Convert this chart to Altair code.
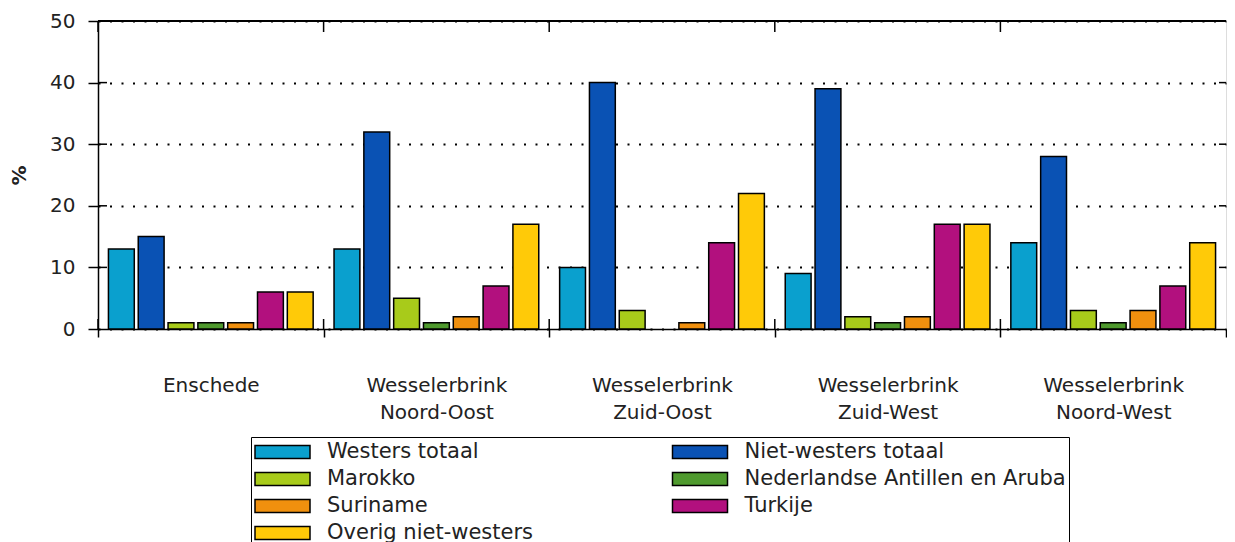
import altair as alt
import pandas as pd

GEBIEDEN = ["Enschede", "Wesselerbrink Noord-Oost", "Wesselerbrink Zuid-Oost",
            "Wesselerbrink Zuid-West", "Wesselerbrink Noord-West"]
SERIES = ["Westers totaal", "Niet-westers totaal", "Marokko",
          "Nederlandse Antillen en Aruba", "Suriname", "Turkije", "Overig niet-westers"]
COLORS = ["#0AA0CE", "#0A52B4", "#A8CB1A", "#4F9A2E", "#F0900E", "#B2107E", "#FFCA08"]

WESTERS = [13, 13, 10, 9, 14]
NIET_WESTERS = [15, 32, 40, 39, 28]
MAROKKO = [1, 5, 3, 2, 3]
ANTILLEN = [1, 1, 0, 1, 1]
SURINAME = [1, 2, 1, 2, 3]
TURKIJE = [6, 7, 14, 17, 7]
OVERIG = [6, 17, 22, 17, 14]

Y_TICKS = [0, 10, 20, 30, 40, 50]

series_values = [WESTERS, NIET_WESTERS, MAROKKO, ANTILLEN, SURINAME, TURKIJE, OVERIG]
rows = []
for s, vals in zip(SERIES, series_values):
    for g, v in zip(GEBIEDEN, vals):
        rows.append({"gebied": g, "serie": s, "pct": v})
df = pd.DataFrame(rows)

FONT = "DejaVu Sans"
W, H = 1128, 308

yscale = alt.Scale(domain=[0, 50], nice=False)
xscale = alt.Scale(domain=GEBIEDEN, paddingInner=0, paddingOuter=0)

LEGEND_SYMBOL = "M-1,-0.59H4V0.59H-1Z"

bars = alt.Chart(df).transform_filter("datum.pct > 0").mark_bar(
    stroke="black", strokeWidth=1.5
).encode(
    x=alt.X("gebied:N", sort=GEBIEDEN, scale=xscale, title=None,
            axis=alt.Axis(labelAngle=0, tickBand="extent", tickSize=8, tickWidth=1.5,
                          tickColor="black", domainColor="black", domainWidth=1.5,
                          labelFont=FONT, labelFontSize=20, labelColor="#222",
                          labelPadding=38, labelBaseline="top", labelLineHeight=27,
                          labelExpr="split(datum.label, ' ')")),
    xOffset=alt.XOffset("serie:N", sort=SERIES,
                        scale=alt.Scale(domain=SERIES, paddingInner=0.133, paddingOuter=0.35)),
    y=alt.Y("pct:Q", scale=yscale, title="%",
            axis=alt.Axis(values=Y_TICKS, tickSize=10, tickWidth=1.5, tickColor="black",
                          domainColor="black", domainWidth=1.5,
                          grid=True, gridColor="black", gridDash=[2, 9.5], gridWidth=2,
                          gridOpacity=1,
                          labelFont=FONT, labelFontSize=20, labelColor="#222", labelPadding=13,
                          titleFont=FONT, titleFontSize=20, titleFontWeight="bold",
                          titleColor="#222", titleX=-79, titleY=154,
                          titleBaseline="middle")),
    color=alt.Color("serie:N", sort=SERIES,
                    scale=alt.Scale(domain=SERIES, range=COLORS),
                    legend=alt.Legend(orient="none", legendX=153, legendY=416, columns=2,
                                      direction="horizontal",
                                      title=None, symbolType=LEGEND_SYMBOL, symbolSize=484,
                                      symbolStrokeColor="black", symbolStrokeWidth=1.5,
                                      symbolOpacity=1,
                                      labelFont=FONT, labelFontSize=21, labelColor="#222",
                                      labelOffset=49, columnPadding=136.5, rowPadding=5,
                                      padding=3, strokeColor="black", labelLimit=0)),
)

inner = pd.DataFrame({"v": Y_TICKS[1:-1]})
left_ticks = alt.Chart(inner).mark_rule(color="black", strokeWidth=1.5).encode(
    y=alt.Y("v:Q", scale=yscale), x=alt.value(0), x2=alt.value(9))
right_ticks = alt.Chart(inner).mark_rule(color="black", strokeWidth=1.5).encode(
    y=alt.Y("v:Q", scale=yscale), x=alt.value(W - 7), x2=alt.value(W))

groups = pd.DataFrame({"gebied": GEBIEDEN})
top_ticks = alt.Chart(groups).mark_rule(color="black", strokeWidth=1.5).encode(
    x=alt.X("gebied:N", sort=GEBIEDEN, scale=xscale, bandPosition=0),
    y=alt.value(0), y2=alt.value(11))
bottom_ticks = alt.Chart(groups).mark_rule(color="black", strokeWidth=1.5).encode(
    x=alt.X("gebied:N", sort=GEBIEDEN, scale=xscale, bandPosition=0),
    y=alt.value(H - 10), y2=alt.value(H))
top_border = alt.Chart(groups).mark_rule(color="black", strokeWidth=1.5).encode(
    x=alt.value(0), x2=alt.value(W), y=alt.value(0))

chart = alt.layer(bars, left_ticks, right_ticks, top_ticks, bottom_ticks, top_border).properties(
    width=W, height=H,
    padding={"left": 90, "top": 13, "right": 1, "bottom": 214},
    autosize=alt.AutoSizeParams(type="none"),
).configure_view(stroke="black", strokeWidth=1.5).configure(background="white")

chart.save("out.html", embed_options={"renderer": "svg", "actions": False})
